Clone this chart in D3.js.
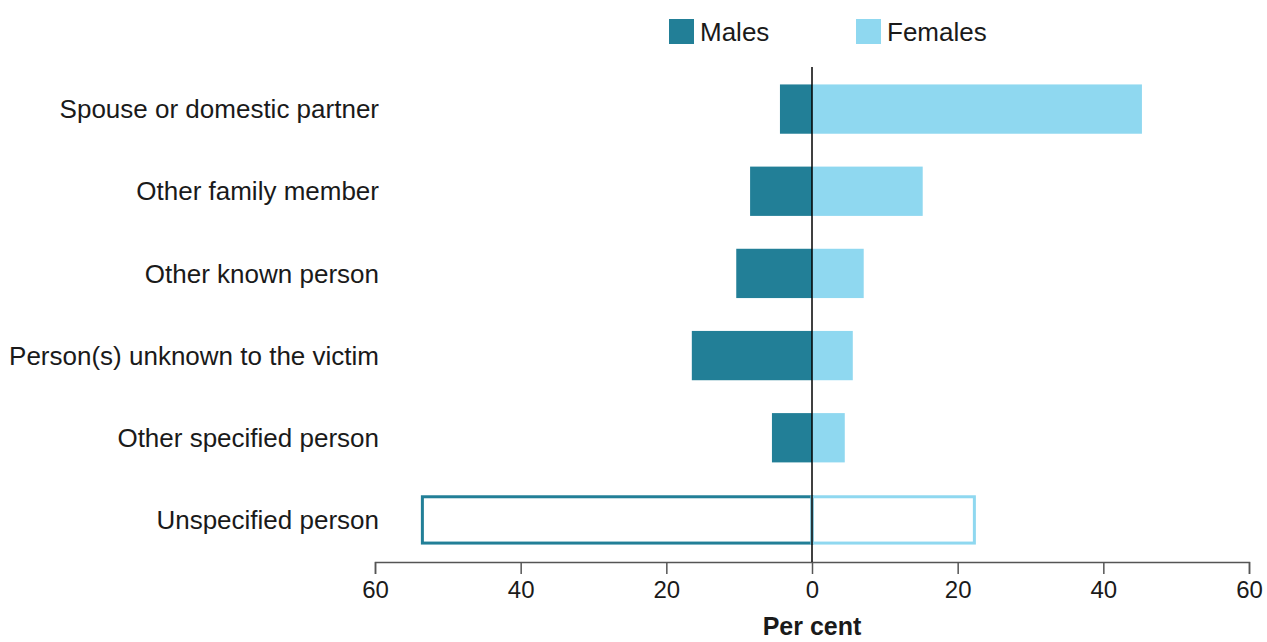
<!DOCTYPE html>
<html>
<head>
<meta charset="utf-8">
<script src="https://cdn.jsdelivr.net/npm/d3@7"></script>
<style>
  body { margin: 0; background: #fff; }
  text { font-family: "Liberation Sans", Arial, sans-serif; fill: #1a1a1a; }
</style>
</head>
<body>
<div id="chartDiv"></div>
<script>
// data
var categories = ["Spouse or domestic partner", "Other family member", "Other known person",
    "Person(s) unknown to the victim", "Other specified person", "Unspecified person"];
var males = [4.4, 8.5, 10.4, 16.5, 5.5, 53.7];
var females = [45.3, 15.2, 7.1, 5.6, 4.5, 22.5];
var outlined = [false, false, false, false, false, true];
var tickValues = [-60, -40, -20, 0, 20, 40, 60];

var maleColor = "#227f97";
var femaleColor = "#8fd8f0";

var width = 1267, height = 642;
const margin = {top: 68, right: 18, bottom: 81, left: 375};

let svg = d3.select("#chartDiv").append("svg")
    .attr("width", width)
    .attr("height", height);

let x = d3.scaleLinear()
    .domain([-60, 60])
    .range([margin.left, width - margin.right]);

let y = d3.scaleBand()
    .domain(categories)
    .range([margin.top, height - margin.bottom])
    .paddingInner(0.4)
    .paddingOuter(0.2);

let rows = categories.map((c, i) => ({name: c, m: males[i], f: females[i], outline: outlined[i]}));

// males to the left
svg.append("g").selectAll("rect")
    .data(rows)
    .join("rect")
    .attr("x", d => x(-d.m) + (d.outline ? 1.5 : 0))
    .attr("y", d => y(d.name) + (d.outline ? 1.5 : 0))
    .attr("width", d => x(0) - x(-d.m) - (d.outline ? 1.5 : 0))
    .attr("height", d => y.bandwidth() - (d.outline ? 3 : 0))
    .attr("fill", d => d.outline ? "none" : maleColor)
    .attr("stroke", d => d.outline ? maleColor : "none")
    .attr("stroke-width", 3);

// females to the right
svg.append("g").selectAll("rect")
    .data(rows)
    .join("rect")
    .attr("x", x(0))
    .attr("y", d => y(d.name) + (d.outline ? 1.5 : 0))
    .attr("width", d => x(d.f) - x(0) - (d.outline ? 1.5 : 0))
    .attr("height", d => y.bandwidth() - (d.outline ? 3 : 0))
    .attr("fill", d => d.outline ? "none" : femaleColor)
    .attr("stroke", d => d.outline ? femaleColor : "none")
    .attr("stroke-width", 3);

// category labels
svg.append("g").selectAll("text")
    .data(rows)
    .join("text")
    .attr("x", margin.left + 4)
    .attr("y", d => y(d.name) + y.bandwidth() / 2)
    .attr("dy", "0.35em")
    .attr("text-anchor", "end")
    .style("font-size", "26px")
    .text(d => d.name);

// x axis
let axisY = height - margin.bottom + 1;
let xAxis = d3.axisBottom(x)
    .tickValues(tickValues)
    .tickSize(12)
    .tickFormat(d => Math.abs(d));

let gx = svg.append("g")
    .attr("transform", `translate(0, ${axisY})`)
    .call(xAxis);
gx.select(".domain").attr("stroke", "#555").attr("stroke-width", 1.5);
gx.selectAll(".tick line").attr("stroke", "#555").attr("stroke-width", 1.5);
gx.selectAll(".tick text")
    .attr("y", 19)
    .style("font-family", "'Liberation Sans', Arial, sans-serif")
    .style("font-size", "24px")
    .style("fill", "#1a1a1a");

svg.append("text")
    .attr("x", x(0))
    .attr("y", 635)
    .attr("text-anchor", "middle")
    .style("font-size", "25px")
    .style("font-weight", "bold")
    .text("Per cent");

// zero line
svg.append("line")
    .attr("x1", x(0)).attr("x2", x(0))
    .attr("y1", margin.top - 1)
    .attr("y2", axisY)
    .attr("stroke", "#000")
    .attr("stroke-width", 1.5);

// legend
let legend = [{label: "Males", color: maleColor, x: 669}, {label: "Females", color: femaleColor, x: 856}];
let lg = svg.append("g").selectAll("g")
    .data(legend)
    .join("g")
    .attr("transform", d => `translate(${d.x}, 19)`);
lg.append("rect")
    .attr("width", 25).attr("height", 25)
    .attr("fill", d => d.color);
lg.append("text")
    .attr("x", 31)
    .attr("y", 13)
    .attr("dy", "0.36em")
    .style("font-size", "26px")
    .text(d => d.label);
</script>
</body>
</html>
